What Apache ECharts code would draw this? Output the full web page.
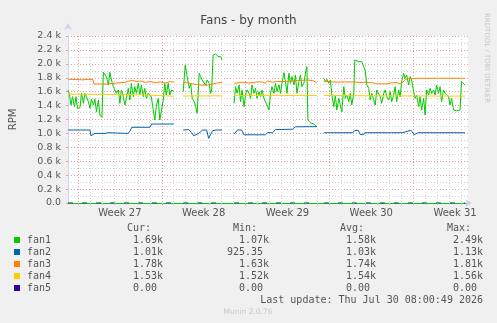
<!DOCTYPE html>
<html><head><meta charset="utf-8">
<script src="https://cdn.jsdelivr.net/npm/echarts@6/dist/echarts.min.js"></script>
<style>html,body{margin:0;padding:0;background:#F0F0F0;}#c{width:497px;height:323px;}</style>
</head><body><div id="c"></div>
<script>
// x = hours since the start of Week 27 (Monday 00:00), y = RPM; null = no data
const weekLabels = ['Week 27', 'Week 28', 'Week 29', 'Week 30', 'Week 31'];
const seriesNames = ['fan1', 'fan2', 'fan3', 'fan4', 'fan5'];
const seriesColors = ['#00CC00', '#0066B3', '#FF8000', '#FFCC00', '#330099'];

const fan1 = [[-20,1624],[-18,1586],[-14,1408],[-11,1528],[-7,1384],[-4,1528],[-1,1360],[4,1370],[7,1576],[11,1432],[14,1576],[17,1586],[21,1456],[24,1360],[27,1490],[31,1408],[34,1490],[37,1312],[41,1480],[44,1264],[48,1231],[51,1878],[53,1878],[57,1816],[61,1696],[64,1878],[67,1768],[71,1672],[74,1648],[77,1576],[81,1624],[84,1432],[87,1624],[91,1528],[94,1408],[97,1504],[101,1648],[104,1480],[107,1720],[111,1528],[114,1672],[117,1576],[121,1720],[124,1552],[127,1696],[131,1528],[134,1648],[137,1504],[141,1576],[144,1552],[147,1528],[151,1504],[154,1193],[157,1384],[161,1504],[164,1193],[167,1169],[171,1480],[174,1720],[177,1552],[181,1720],[184,1552],[188,1624],[192,1600],
  [200,null],
  [211,1600],[215,1980],[219,1816],[223,1648],[226,1720],[229,1504],[233,1456],[236,1384],[239,1288],[243,1864],[246,1816],[249,1768],[253,1768],[256,1696],[259,1768],[263,1720],[266,1576],[268,1624],[271,2127],[276,2142],[281,2103],[286,2103],[289,2055],
  [300,null],
  [313,1432],[316,1672],[319,1576],[323,1696],[326,1456],[329,1624],[333,1384],[336,1552],[339,1624],[343,1576],[346,1504],[349,1696],[353,1576],[356,1648],[359,1504],[363,1600],[366,1528],[369,1624],[373,1504],[376,1450],[379,1408],[383,1336],[386,1576],[389,1672],[393,1576],[396,1720],[399,1600],[403,1696],[406,1576],[409,1720],[413,1873],[416,1744],[419,1576],[423,1864],[426,1720],[429,1816],[433,1696],[436,1840],[439,1576],[443,1744],[446,1840],[449,1672],[453,1720],[456,1864],[459,1960],[461,1193],[466,1154],[473,1135],[479,1097],
  [486,null],
  [493,1792],[496,1744],[499,1778],[503,1720],[506,1768],[509,1552],[513,1384],[516,1552],[519,1336],[523,1504],[526,1408],[529,1312],[533,1672],[536,1504],[539,1552],[543,1456],[546,1576],[549,1408],[553,1576],[555,2055],[559,2079],[563,2031],[566,2055],[569,2031],[573,1959],[576,1900],[579,1700],[583,1648],[586,1480],[589,1576],[593,1480],[596,1408],[599,1624],[603,1648],[606,1528],[609,1432],[613,1576],[616,1624],[619,1528],[623,1480],[626,1600],[629,1456],[633,1552],[636,1672],[639,1456],[643,1624],[646,1528],[649,1744],[653,1864],[656,1792],[659,1840],[663,1696],[666,1816],[669,1768],[673,1600],[676,1504],[679,1552],[683,1384],[686,1528],[689,1336],[693,1504],[696,1264],[699,1624],[703,1552],[706,1648],[709,1576],[713,1624],[716,1552],[719,1696],[723,1576],[726,1672],[729,1456],[733,1624],[736,1576],[739,1600],[743,1528],[746,1408],[749,1504],[753,1336],[756,1336],[759,1326],[763,1312],[766,1336],[769,1744],[773,1720],[776,1696]];

const fan2 = [[-20,1049],[24,1049],[26,967],[30,975],[34,1000],[54,1000],[60,1010],[80,1005],[94,1000],[100,1000],[104,1030],[108,1088],[144,1088],[148,1135],[192,1135],
  [200,null],
  [211,1049],[222,1055],[228,1010],[232,967],[242,1000],[250,1049],[258,1049],[262,930],[266,930],[270,1040],[278,1049],[289,1049],
  [300,null],
  [313,990],[320,1049],[328,1049],[333,980],[376,980],[380,1010],[390,1010],[396,1055],[430,1060],[436,1095],[479,1097],
  [486,null],
  [493,1010],[550,1010],[555,1040],[562,1045],[566,985],[572,980],[575,1010],[620,1010],[622,1000],[628,1010],[650,1010],[654,1035],[668,1045],[672,1040],[674,980],[678,980],[682,1010],[776,1010]];

const fan3 = [[-20,1778],[10,1770],[20,1778],[30,1775],[32,1710],[50,1712],[56,1710],[57,1729],[95,1735],[100,1750],[110,1760],[118,1745],[125,1752],[135,1735],[145,1745],[155,1730],[165,1740],[175,1725],[185,1745],[192,1738],
  [200,null],
  [211,1735],[225,1720],[240,1700],[255,1690],[265,1700],[278,1725],[289,1730],
  [300,null],
  [313,1720],[330,1735],[345,1725],[360,1740],[370,1740],[375,1720],[380,1755],[390,1735],[400,1745],[420,1748],[440,1760],[460,1768],[472,1755],[479,1730],
  [486,null],
  [493,1745],[520,1738],[550,1740],[570,1732],[590,1730],[600,1712],[620,1712],[630,1730],[640,1728],[648,1712],[655,1765],[660,1785],[672,1790],[680,1792],[776,1792]];

const fan4 = [[-20,1565],[60,1560],[130,1555],[160,1545],[192,1535],
  [200,null],
  [211,1538],[289,1540],
  [300,null],
  [313,1548],[479,1546],
  [486,null],
  [493,1545],[600,1540],[776,1536]];

const fan5 = [[-20,0],[192,0],[200,null],[211,0],[289,0],[300,null],[313,0],[479,0],[486,null],[493,0],[776,0]];

const statHeaders = ['Cur:', 'Min:', 'Avg:', 'Max:'];
const statCur = ['1.69k', '1.01k', '1.78k', '1.53k', '0.00'];
const statMin = ['1.07k', '925.35', '1.63k', '1.52k', '0.00'];
const statAvg = ['1.58k', '1.03k', '1.74k', '1.54k', '0.00'];
const statMax = ['2.49k', '1.13k', '1.81k', '1.56k', '0.00'];
const lastUpdate = 'Last update: Thu Jul 30 08:00:49 2026';

const X_MIN = -20, X_MAX = 782;
const dayTicks = []; for (let h = 0; h <= X_MAX; h += 24) dayTicks.push(h);
const weekTicks = []; for (let h = 0; h <= X_MAX; h += 168) weekTicks.push(h);
const weekLabelPos = weekLabels.map((_, i) => i * 168 + 84);

const chart = echarts.init(document.getElementById('c'), null, {renderer: 'canvas'});
const mono = 'DejaVu Sans Mono';
const txtColor = '#555';
const graphics = [];
const rowY = [240, 252, 264, 276, 288];
const colRight = [163, 269, 376, 483];
const colHeadX = [127, 233, 340, 447];
statHeaders.forEach((t, i) => graphics.push({type: 'text', x: colHeadX[i], y: 228, style: {text: t, font: '10px ' + mono, fill: txtColor, textAlign: 'left', textVerticalAlign: 'middle'}}));
const cols = [statCur, statMin, statAvg, statMax];
seriesNames.forEach((n, r) => {
  graphics.push({type: 'rect', shape: {x: 14, y: rowY[r] - 3, width: 6, height: 6}, style: {fill: seriesColors[r]}});
  graphics.push({type: 'text', x: 27, y: rowY[r], style: {text: n, font: '10px ' + mono, fill: txtColor, textAlign: 'left', textVerticalAlign: 'middle'}});
  cols.forEach((col, c) => {
    const v = col[r];
    const shift = /k$/.test(v) ? 0 : 6;
    graphics.push({type: 'text', x: colRight[c] - shift, y: rowY[r], style: {text: v, font: '10px ' + mono, fill: txtColor, textAlign: 'right', textVerticalAlign: 'middle'}});
  });
});
graphics.push({type: 'text', x: 483, y: 300, style: {text: lastUpdate, font: '10px ' + mono, fill: txtColor, textAlign: 'right', textVerticalAlign: 'middle'}});
graphics.push({type: 'text', x: 248, y: 312, style: {text: 'Munin 2.0.76', font: '7.5px DejaVu Sans', fill: '#C8C8C8', textAlign: 'center', textVerticalAlign: 'middle'}});
graphics.push({type: 'text', x: 487, y: 58, rotation: -Math.PI / 2, style: {text: 'RRDTOOL / TOBI OETIKER', font: '7px DejaVu Sans', fill: '#C8C8C8', textAlign: 'center', textVerticalAlign: 'middle'}});

const lineSeries = [fan1, fan2, fan3, fan4, fan5].map((d, i) => ({
  name: seriesNames[i], type: 'line', data: d, xAxisIndex: 0, yAxisIndex: 0,
  showSymbol: false, symbol: 'none', connectNulls: false, silent: true,
  lineStyle: {width: 1, color: seriesColors[i], type: i === 4 ? [5, 9] : 'solid'},
  itemStyle: {color: seriesColors[i]}, z: 3 + i
}));

chart.setOption({
  animation: false,
  backgroundColor: '#F0F0F0',
  title: {text: 'Fans - by month', left: 'center', top: 10, textStyle: {fontFamily: 'DejaVu Sans', fontSize: 12, fontWeight: 'normal', color: '#444'}},
  grid: {left: 67, right: 29, top: 36, bottom: 120, show: true, backgroundColor: '#FFFFFF', borderWidth: 0},
  xAxis: [{
    type: 'value', min: X_MIN, max: X_MAX, position: 'bottom',
    axisLine: {show: true, onZero: false, lineStyle: {color: '#CCD3F5', width: 1}, symbol: ['none', 'arrow'], symbolSize: [6, 7], symbolOffset: [0, 4]},
    axisTick: {show: true, length: 2, inside: false, customValues: dayTicks, lineStyle: {color: '#C8C8C8'}},
    axisLabel: {show: true, customValues: weekLabelPos, margin: 5, fontFamily: 'DejaVu Sans', fontSize: 10, color: txtColor,
      formatter: v => weekLabels[Math.round((v - 84) / 168)]},
    splitLine: {show: true, lineStyle: {color: '#D2D2D2', type: [1, 2], width: 1}}
  }, {
    type: 'value', min: X_MIN, max: X_MAX, position: 'bottom',
    axisLine: {show: true, onZero: false, lineStyle: {color: '#00CC00', width: 1}},
    axisTick: {show: true, length: 2, customValues: weekTicks, lineStyle: {color: '#E39A9A'}},
    axisLabel: {show: false},
    splitLine: {show: true, lineStyle: {color: '#E4A0A0', type: [1, 2], width: 1}}
  }],
  yAxis: {
    type: 'value', min: 0, max: 2400, interval: 200,
    name: 'RPM', nameLocation: 'middle', nameGap: 50, nameRotate: 90,
    nameTextStyle: {fontFamily: 'DejaVu Sans', fontSize: 10, color: txtColor},
    axisLine: {show: true, onZero: false, lineStyle: {color: '#CCD3F5', width: 1}, symbol: ['none', 'arrow'], symbolSize: [6, 7], symbolOffset: [0, 13]},
    axisTick: {show: true, length: 2, lineStyle: {color: '#E39A9A'}},
    axisLabel: {margin: 7, fontFamily: 'DejaVu Sans', fontSize: 9.5, color: txtColor,
      formatter: v => v === 0 ? '0.0' : (v / 1000).toFixed(1) + ' k'},
    splitLine: {show: true, lineStyle: {color: '#E4A0A0', type: [1, 2], width: 1}},
    minorTick: {show: false, splitNumber: 2},
    minorSplitLine: {show: true, lineStyle: {color: '#D2D2D2', type: [1, 2], width: 1}}
  },
  graphic: graphics,
  series: lineSeries
});
</script></body></html>
